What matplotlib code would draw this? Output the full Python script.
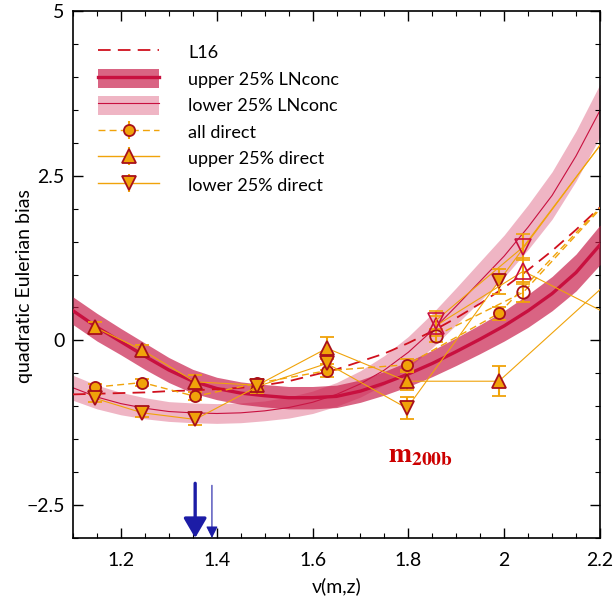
import matplotlib
matplotlib.use('Agg')
import matplotlib.pyplot as plt
from matplotlib.patches import Patch
from matplotlib.lines import Line2D
from matplotlib.ticker import MultipleLocator
import numpy as np

plt.rcParams['font.family'] = ['Lato', 'DejaVu Sans']
plt.rcParams['mathtext.fontset'] = 'stix'

# model curves, every 0.05 in nu
nu_grid = [1.10, 1.15, 1.20, 1.25, 1.30, 1.35, 1.40, 1.45, 1.50, 1.55, 1.60, 1.65,
           1.70, 1.75, 1.80, 1.85, 1.90, 1.95, 2.00, 2.05, 2.10, 2.15, 2.20]
upper_ln = [0.45, 0.20, -0.02, -0.24, -0.45, -0.62, -0.73, -0.80, -0.84, -0.87, -0.87, -0.85,
            -0.77, -0.65, -0.51, -0.35, -0.17, 0.02, 0.22, 0.45, 0.71, 1.03, 1.45]
upper_ln_hw = [0.21, 0.21, 0.20, 0.20, 0.19, 0.18, 0.17, 0.17, 0.17, 0.17, 0.17, 0.17,
               0.17, 0.18, 0.19, 0.20, 0.21, 0.22, 0.23, 0.25, 0.26, 0.28, 0.30]
lower_ln = [-0.72, -0.86, -0.96, -1.03, -1.08, -1.10, -1.11, -1.10, -1.07, -1.02, -0.94, -0.82,
            -0.66, -0.45, -0.18, 0.15, 0.52, 0.90, 1.28, 1.72, 2.20, 2.80, 3.49]
lower_ln_hw = [0.19, 0.18, 0.17, 0.16, 0.15, 0.15, 0.15, 0.15, 0.15, 0.16, 0.17, 0.18,
               0.20, 0.22, 0.24, 0.26, 0.28, 0.30, 0.32, 0.34, 0.36, 0.38, 0.40]
l16 = [-0.82, -0.81, -0.80, -0.79, -0.77, -0.76, -0.74, -0.72, -0.68, -0.62, -0.53, -0.44,
       -0.32, -0.20, -0.04, 0.14, 0.34, 0.56, 0.80, 1.07, 1.36, 1.68, 2.02]

# direct measurements, first redshift (filled symbols); last point lies off the axis
nu_f = [1.146, 1.245, 1.355, 1.485, 1.630, 1.797, 1.989, 2.30]
all_f = [-0.71, -0.64, -0.85, -0.65, -0.46, -0.37, 0.41, 2.77]
all_f_err = [0.05, 0.05, 0.06, 0.07, 0.10, 0.08, 0.10, 0.15]
up_f = [0.20, -0.15, -0.63, -0.68, -0.12, -0.62, -0.62, 1.43]
up_f_err = [0.08, 0.08, 0.10, 0.10, 0.17, 0.14, 0.23, 0.30]
lo_f = [-0.88, -1.10, -1.20, -0.70, -0.35, -1.03, 0.90, 3.94]
lo_f_err = [0.06, 0.07, 0.08, 0.10, 0.10, 0.17, 0.19, 0.30]

# second redshift (open symbols)
nu_h = [1.857, 2.040, 2.30]
all_h = [0.07, 0.73, 2.78]
all_h_err = [0.10, 0.15, 0.20]
up_h = [0.22, 1.05, 0.09]
up_h_err = [0.15, 0.20, 0.30]
lo_h = [0.30, 1.42, 3.92]
lo_h_err = [0.15, 0.20, 0.30]

arrow_nu = [1.355, 1.39]
arrow_top = [-2.17, -2.20]

orange = '#f0a30a'
edge = '#a8101a'
crimson = '#c8103f'

fig = plt.figure(figsize=(6.15, 6.01), dpi=100)
ax = fig.add_axes([73 / 615, 1 - 538 / 601, 527 / 615, 527 / 601])

g = np.array(nu_grid)
lo = np.array(lower_ln)
lhw = np.array(lower_ln_hw)
up = np.array(upper_ln)
uhw = np.array(upper_ln_hw)

ax.fill_between(g, lo - lhw, lo + lhw, color='#e37894', alpha=0.55, lw=0, zorder=1)
ax.plot(g, lo, color=crimson, lw=0.8, zorder=2)
ax.fill_between(g, up - uhw, up + uhw, color='#c81a48', alpha=0.68, lw=0, zorder=3)
ax.plot(g, up, color=crimson, lw=2.4, zorder=4)
ax.plot(g, l16, color='#d0101e', lw=1.3, ls=(0, (7, 4)), zorder=5)

ekw = dict(ecolor=orange, elinewidth=1.5, capsize=5, capthick=1.5, zorder=7)
ax.errorbar(nu_f, all_f, yerr=all_f_err, color=orange, lw=1.0, ls=(0, (5, 3)),
            marker='o', ms=8, mfc=orange, mec=edge, mew=1.3, **ekw)
ax.errorbar(nu_f, up_f, yerr=up_f_err, color=orange, lw=0.8, marker='^', ms=10,
            mfc=orange, mec=edge, mew=1.3, **ekw)
ax.errorbar(nu_f, lo_f, yerr=lo_f_err, color=orange, lw=0.8, marker='v', ms=10,
            mfc=orange, mec=edge, mew=1.3, **ekw)
ax.errorbar(nu_h, all_h, yerr=all_h_err, color=orange, lw=1.0, ls=(0, (5, 3)),
            marker='o', ms=9, mfc='none', mec=edge, mew=1.3, **ekw)
ax.errorbar(nu_h, up_h, yerr=up_h_err, color=orange, lw=0.8, marker='^', ms=11,
            mfc='none', mec=crimson, mew=1.2, **ekw)
ax.errorbar(nu_h, lo_h, yerr=lo_h_err, color=orange, lw=0.8, marker='v', ms=11,
            mfc='none', mec=crimson, mew=1.2, **ekw)

# arrows at the bottom
ax.annotate('', xy=(arrow_nu[0], -3.0), xytext=(arrow_nu[0], arrow_top[0]),
            arrowprops=dict(arrowstyle='-|>,head_width=7,head_length=12', mutation_scale=1,
                            lw=2.4, color='#1c1ca6', shrinkA=0, shrinkB=0), zorder=8)
ax.annotate('', xy=(arrow_nu[1], -3.0), xytext=(arrow_nu[1], arrow_top[1]),
            arrowprops=dict(arrowstyle='-|>,head_width=3.5,head_length=7', mutation_scale=1,
                            lw=0.8, color='#1c1ca6', shrinkA=0, shrinkB=0), zorder=8)

ax.text(1.758, -1.74, r'$\mathbf{m}_{\mathbf{200b}}$', color='#cc0000', fontsize=20,
        ha='left', va='center')

ax.set_xlim(1.1, 2.2)
ax.set_ylim(-3, 5)
ax.xaxis.set_major_locator(MultipleLocator(0.2))
ax.xaxis.set_minor_locator(MultipleLocator(0.05))
ax.yaxis.set_major_locator(MultipleLocator(2.5))
ax.yaxis.set_minor_locator(MultipleLocator(0.5))
ax.set_xticks([1.2, 1.4, 1.6, 1.8, 2.0, 2.2])
ax.set_xticklabels(['1.2', '1.4', '1.6', '1.8', '2', '2.2'])
ax.set_yticks([-2.5, 0, 2.5, 5])
ax.set_yticklabels(['\u22122.5', '0', '2.5', '5'])
ax.tick_params(which='both', direction='in', top=True, right=True, labelsize=14)
ax.tick_params(which='major', length=7, width=1)
ax.tick_params(which='minor', length=3.5, width=0.8)
ax.tick_params(axis='x', pad=10)
ax.tick_params(axis='y', pad=6)
for s in ax.spines.values():
    s.set_linewidth(1.2)
ax.set_xlabel('\u03bd(m,z)', fontsize=14, labelpad=6)
ax.set_ylabel('quadratic Eulerian bias', fontsize=14)
ax.yaxis.set_label_coords(-0.076, 0.478)

# legend
h_l16 = Line2D([], [], color='#d0101e', lw=1.3, ls=(0, (7, 4)))
h_up = (Patch(facecolor='#c81a48', alpha=0.68, lw=0), Line2D([], [], color=crimson, lw=2.4))
h_lo = (Patch(facecolor='#e37894', alpha=0.55, lw=0), Line2D([], [], color=crimson, lw=0.8))
h_all = ax.errorbar([], [], yerr=[], color=orange, lw=1.0, ls=(0, (5, 3)), marker='o', ms=8,
                    mfc=orange, mec=edge, mew=1.3, ecolor=orange, elinewidth=1.5, capsize=5,
                    capthick=1.5)
h_upd = ax.errorbar([], [], yerr=[], color=orange, lw=1.0, marker='^', ms=10,
                    mfc=orange, mec=edge, mew=1.3, ecolor=orange, elinewidth=1.5, capsize=5,
                    capthick=1.5)
h_lod = ax.errorbar([], [], yerr=[], color=orange, lw=1.0, marker='v', ms=10,
                    mfc=orange, mec=edge, mew=1.3, ecolor=orange, elinewidth=1.5, capsize=5,
                    capthick=1.5)
leg = ax.legend([h_l16, h_up, h_lo, h_all, h_upd, h_lod],
                ['L16', 'upper 25% LNconc', 'lower 25% LNconc', 'all direct',
                 'upper 25% direct', 'lower 25% direct'],
                loc='upper left', bbox_to_anchor=(0.048, 0.94), frameon=False, fontsize=13,
                handlelength=3.38, handleheight=1.25, labelspacing=0.41, handletextpad=1.6,
                borderaxespad=0, borderpad=0)

fig.savefig('out.png', dpi=100)
